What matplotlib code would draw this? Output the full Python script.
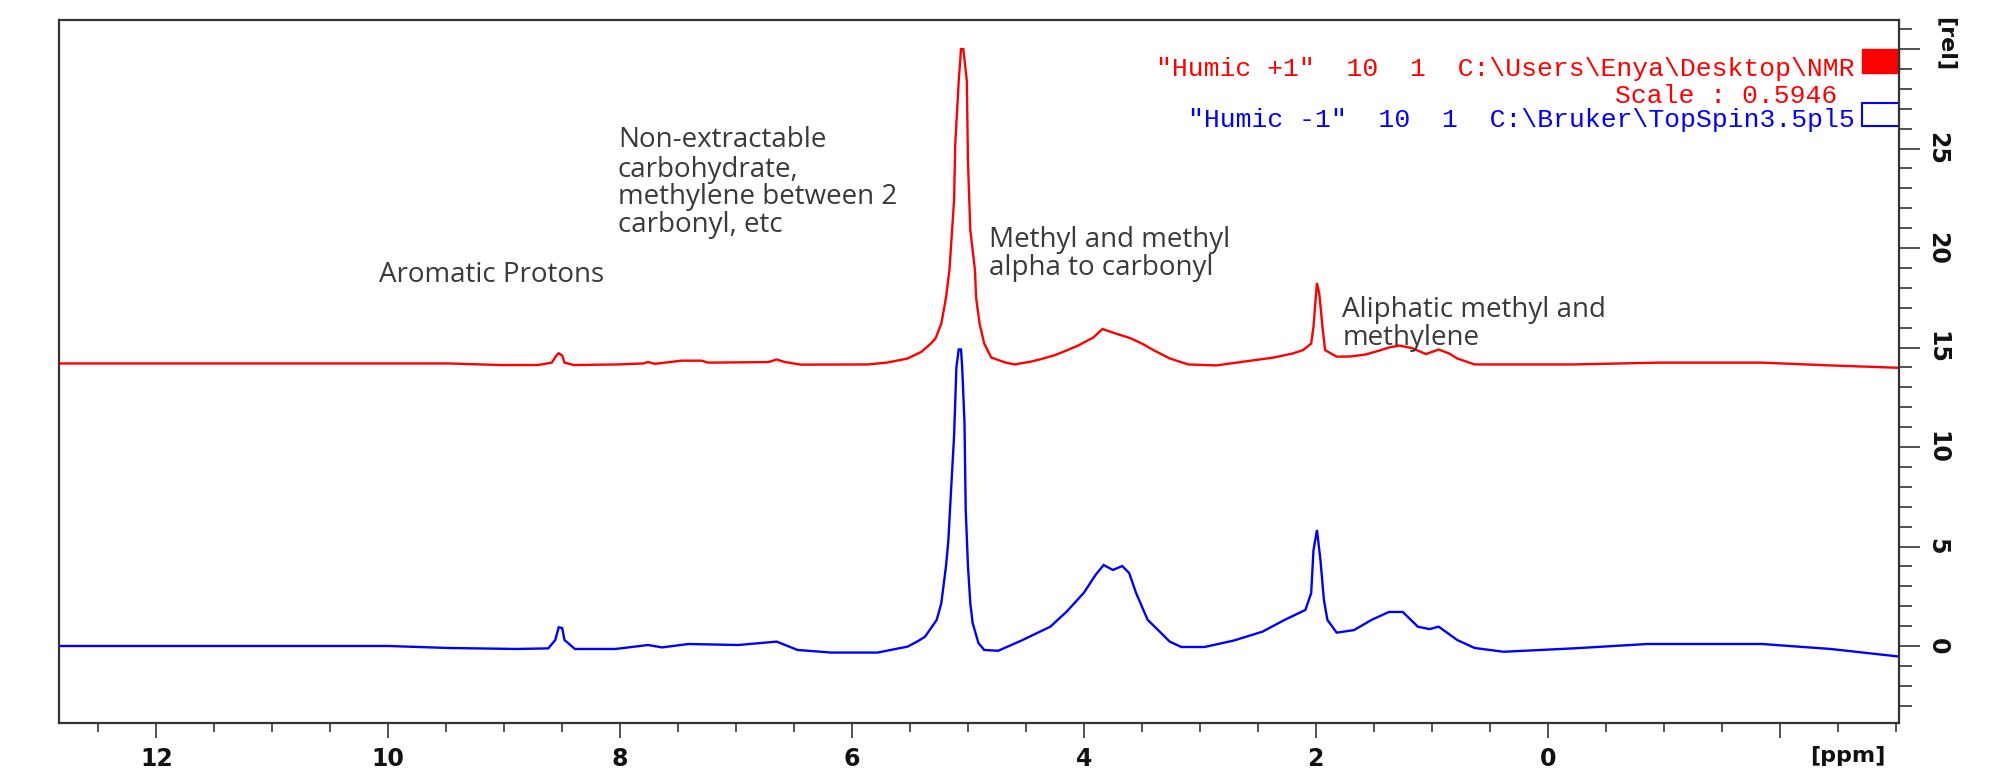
import matplotlib
matplotlib.use('Agg')
import matplotlib.pyplot as plt
from matplotlib.patches import Rectangle
from matplotlib.ticker import FixedLocator, MultipleLocator

# ---------------- data ----------------
red_ppm = [12.84, 11.0, 10.0, 9.48, 9.03, 8.71, 8.59, 8.55, 8.53, 8.50, 8.48, 8.40,
           8.02, 7.80, 7.76, 7.70, 7.47, 7.30, 7.24, 6.72, 6.65, 6.58, 6.44, 5.86,
           5.69, 5.52, 5.40, 5.32, 5.28, 5.23, 5.19, 5.16, 5.12, 5.11, 5.08, 5.06,
           5.04, 5.01, 5.00, 4.98, 4.94, 4.93, 4.90, 4.86, 4.80, 4.68, 4.60, 4.45,
           4.35, 4.25, 4.15, 4.05, 3.92, 3.84, 3.75, 3.60, 3.50, 3.40, 3.26, 3.10,
           2.86, 2.61, 2.36, 2.20, 2.11, 2.04, 2.02, 2.00, 1.99, 1.97, 1.94, 1.92,
           1.82, 1.70, 1.57, 1.45, 1.37, 1.28, 1.17, 1.05, 0.94, 0.85, 0.78, 0.63,
           -0.22, -0.96, -1.85, -2.44, -3.03]
red_int = [14.2, 14.2, 14.2, 14.2, 14.12, 14.12, 14.24, 14.6, 14.71, 14.6, 14.24, 14.12,
           14.15, 14.2, 14.27, 14.18, 14.34, 14.34, 14.24, 14.27, 14.4, 14.27, 14.14, 14.15,
           14.25, 14.45, 14.79, 15.2, 15.46, 16.2, 17.5, 18.9, 22.4, 25.2, 28.4, 30.0,
           30.0, 28.4, 24.3, 20.9, 18.9, 17.5, 16.2, 15.2, 14.5, 14.25, 14.15, 14.3,
           14.45, 14.62, 14.85, 15.1, 15.5, 15.93, 15.75, 15.47, 15.2, 14.87, 14.45, 14.15,
           14.1, 14.3, 14.5, 14.7, 14.87, 15.2, 16.05, 17.55, 18.24, 17.7, 15.9, 14.87,
           14.54, 14.55, 14.65, 14.85, 15.0, 15.1, 14.97, 14.67, 14.9, 14.7, 14.45, 14.15,
           14.15, 14.24, 14.24, 14.1, 13.98]

blue_ppm = [12.84, 10.0, 9.48, 8.90, 8.62, 8.56, 8.53, 8.50, 8.48, 8.39, 8.04, 7.76,
            7.64, 7.41, 6.98, 6.65, 6.47, 6.18, 5.78, 5.52, 5.43, 5.37, 5.27, 5.23,
            5.19, 5.17, 5.15, 5.12, 5.10, 5.08, 5.06, 5.05, 5.03, 5.02, 5.00, 4.98,
            4.96, 4.91, 4.86, 4.74, 4.54, 4.29, 4.15, 4.00, 3.90, 3.83, 3.75, 3.67,
            3.61, 3.55, 3.45, 3.36, 3.26, 3.16, 2.96, 2.71, 2.46, 2.27, 2.09, 2.04,
            2.02, 1.99, 1.96, 1.93, 1.90, 1.82, 1.67, 1.52, 1.37, 1.25, 1.12, 1.02,
            0.94, 0.78, 0.63, 0.38, -0.22, -0.86, -1.85, -2.44, -3.03]
blue_int = [0.0, 0.0, -0.1, -0.15, -0.12, 0.3, 0.94, 0.9, 0.3, -0.15, -0.15, 0.05,
            -0.07, 0.1, 0.05, 0.22, -0.2, -0.33, -0.33, -0.03, 0.25, 0.47, 1.31, 2.15,
            4.0, 5.24, 7.4, 10.55, 14.0, 14.9, 14.9, 14.0, 11.2, 6.9, 4.0, 2.15,
            1.16, 0.15, -0.2, -0.24, 0.27, 0.97, 1.72, 2.68, 3.57, 4.07, 3.82, 4.02,
            3.67, 2.66, 1.31, 0.8, 0.22, -0.05, -0.05, 0.27, 0.72, 1.31, 1.81, 2.66,
            4.82, 5.83, 4.32, 2.31, 1.31, 0.67, 0.8, 1.31, 1.71, 1.71, 0.97, 0.85,
            0.97, 0.3, -0.1, -0.29, -0.12, 0.1, 0.1, -0.15, -0.53]

x_ticks = [12, 10, 8, 6, 4, 2, 0, -2]
x_tick_labels = ['12', '10', '8', '6', '4', '2', '0', '']
y_ticks = [0, 5, 10, 15, 20, 25, 30]
y_tick_labels = ['0', '5', '10', '15', '20', '25', '']

legend_red = '"Humic +1"  10  1  C:\\Users\\Enya\\Desktop\\NMR'
legend_scale = 'Scale : 0.5946'
legend_blue = '"Humic -1"  10  1  C:\\Bruker\\TopSpin3.5pl5'

annotations = [
    (10.08, [18.64], ['Aromatic Protons']),
    (8.02, [25.43, 23.92, 22.56, 21.16],
     ['Non-extractable', 'carbohydrate,', 'methylene between 2', 'carbonyl, etc']),
    (4.82, [20.4, 19.0], ['Methyl and methyl', 'alpha to carbonyl']),
    (1.77, [16.88, 15.5], ['Aliphatic methyl and', 'methylene']),
]

# ---------------- figure ----------------
W, H = 1991, 773
fig = plt.figure(figsize=(W / 100, H / 100), dpi=100)
ax = fig.add_axes([59 / W, 1 - 723 / H, (1899 - 59) / W, (723 - 20) / H])

ax.plot(red_ppm, red_int, color='#ff0000', lw=1.7, solid_joinstyle='miter')
ax.plot(blue_ppm, blue_int, color='#0000ff', lw=1.7, solid_joinstyle='miter')

ax.set_xlim(12.84, -3.03)
ax.set_ylim(-3.87, 31.46)

for s in ax.spines.values():
    s.set_linewidth(1.6)
    s.set_color('#333333')

ax.xaxis.set_major_locator(FixedLocator(x_ticks))
ax.set_xticklabels(x_tick_labels)
ax.xaxis.set_minor_locator(MultipleLocator(0.5))
ax.yaxis.tick_right()
ax.yaxis.set_major_locator(FixedLocator(y_ticks))
ax.set_yticklabels(y_tick_labels)
ax.yaxis.set_minor_locator(MultipleLocator(1))

ax.tick_params(axis='x', which='major', direction='out', length=11, width=1.2,
               color='#333333', pad=6, labelsize=17)
ax.tick_params(axis='x', which='minor', direction='out', length=6.5, width=1.2,
               color='#333333')
ax.tick_params(axis='y', which='major', direction='out', length=15, width=1.2,
               color='#333333', pad=4, labelsize=17, labelrotation=-90,
               left=False, right=True)
ax.tick_params(axis='y', which='minor', direction='out', length=9.5, width=1.2,
               color='#333333', left=False, right=True)
for lab in ax.get_xticklabels() + ax.get_yticklabels():
    lab.set_fontweight('bold')
    lab.set_family('DejaVu Sans')
    lab.set_color('#111111')
for lab in ax.get_yticklabels():
    lab.set_va('center')

fig.text(1848 / W, 1 - 756 / H, '[ppm]', ha='center', va='center',
         fontsize=16, fontweight='bold', family='DejaVu Sans', color='#111111')
fig.text(1946 / W, 1 - 44 / H, '[rel]', ha='center', va='center', rotation=-90,
         fontsize=16, fontweight='bold', family='DejaVu Sans', color='#111111')

# annotations
for x0, ys, lines in annotations:
    for yv, line in zip(ys, lines):
        ax.text(x0, yv, line, ha='left', va='center', fontsize=20,
                family='Open Sans', color='#3a3a3a')

# legend block
mono = dict(family='Liberation Mono', fontsize=19, ha='right', va='center')
ax.text(-2.647, 29.0, legend_red, color='#ff0000', **mono)
ax.text(-2.50, 27.64, legend_scale, color='#ff0000', **mono)
ax.text(-2.647, 26.43, legend_blue, color='#0000ff', **mono)
ax.add_patch(Rectangle((-2.71, 28.79), -0.32, 1.21, facecolor='#ff0000',
                       edgecolor='#ff0000', lw=1.0, clip_on=False))
ax.add_patch(Rectangle((-2.71, 26.13), -0.32, 1.16, facecolor='none',
                       edgecolor='#0000ff', lw=1.5, clip_on=False))

fig.savefig('out.png', dpi=100, facecolor='white')
